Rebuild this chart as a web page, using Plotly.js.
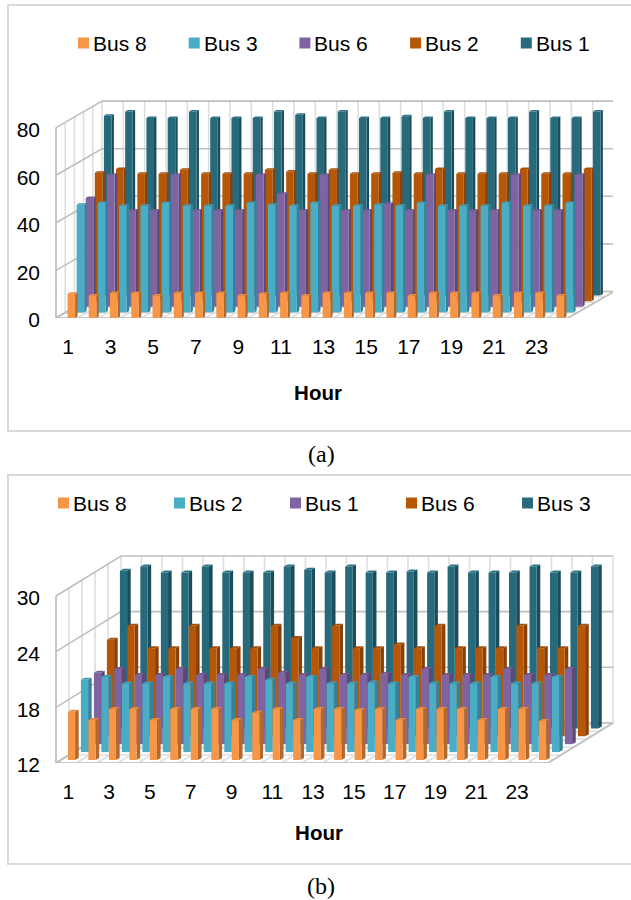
<!DOCTYPE html>
<html>
<head>
<meta charset="utf-8">
<script src="https://cdn.plot.ly/plotly-3.0.1.min.js"></script>
<style>html,body{margin:0;padding:0;background:#fff}#chart{width:631px;height:900px}</style>
</head>
<body>
<div id="chart"></div>
<script>
// Hourly values per bus, panel (a)
const hours = [1,2,3,4,5,6,7,8,9,10,11,12,13,14,15,16,17,18,19,20,21,22,23,24];
const namesA = ['Bus 8','Bus 3','Bus 6','Bus 2','Bus 1'];
const bus8A = [10.2,9.5,10.5,10.5,9.5,10.5,10.5,10.5,9.5,10.2,10.5,9.5,10.5,10.5,10.5,10.5,9.5,10.5,10.5,10.5,9.5,10.5,10.5,9.5];
const bus3A = [45.2,46,44.8,44.8,46,44.8,44.8,44.8,46,45.2,44.8,46,44.8,44.8,45.2,44.8,46,44.8,44.8,44.8,46,44.8,44.8,46];
const bus6A = [45.7,55.5,40.5,40.5,55.5,40.5,40.5,40.5,55.5,47.5,40.5,55.5,40.5,40.5,43.3,40.5,55.5,40.5,40.5,40.5,55.5,40.5,40.5,55.5];
const bus2A = [54,55.5,53.5,53.5,55.2,53.5,53.5,53.5,55.2,54.5,53.5,55.2,53.5,53.5,54,53.5,55.5,53.5,53.5,53.5,55.5,53.5,53.5,55.5];
const bus1A = [75.6,77.4,74.6,74.6,77.4,74.6,74.6,74.6,77.4,76,74.6,77.4,74.6,74.6,75.4,74.6,77.4,74.6,74.6,74.6,77.4,74.6,74.6,77.4];

// Hourly values per bus, panel (b)
const namesB = ['Bus 8','Bus 2','Bus 1','Bus 6','Bus 3'];
const bus8B = [17.2,16.3,17.5,17.5,16.3,17.5,17.5,17.5,16.3,17.1,17.5,16.3,17.5,17.5,17.4,17.5,16.3,17.5,17.5,17.5,16.3,17.5,17.5,16.2];
const bus2B = [19.8,20.1,19.4,19.4,20.1,19.4,19.4,19.4,20.1,19.8,19.4,20.1,19.4,19.4,19.5,19.4,20.1,19.4,19.4,19.4,20.1,19.4,19.4,20.1];
const bus1B = [19.7,20.1,19.45,19.45,20.1,19.45,19.45,19.45,20.1,19.7,19.45,20.1,19.45,19.45,19.6,19.45,20.1,19.45,19.45,19.45,20.1,19.45,19.45,20.1];
const bus6B = [22.4,23.9,21.5,21.5,23.9,21.5,21.5,21.5,23.9,22.6,21.5,23.9,21.5,21.5,21.9,21.5,23.9,21.5,21.5,21.5,23.9,21.5,21.5,23.9];
const bus3B = [29,29.45,28.8,28.8,29.45,28.8,28.8,28.8,29.45,29.1,28.8,29.45,28.8,28.8,28.9,28.8,29.45,28.8,28.8,28.8,29.45,28.8,28.8,29.45];

const yTicksA = [0,20,40,60,80];
const yTicksB = [12,18,24,30];
const xTicks = [1,3,5,7,9,11,13,15,17,19,21,23];

// Front, side and top shades of each series, nearest row first
const front = ['#F79646','#4BACC6','#8064A2','#B65708','#276A7C'];
const side  = ['#B0692F','#37829A','#5C4877','#8A4106','#1B4C5A'];
const top_  = ['#E58A40','#429DB5','#735B93','#A44E07','#2A7487'];

const W = 631, H = 900;
const FONT = 'Liberation Sans, Arial, sans-serif';

// Oblique projection of one panel: a row lifts a bar right and up on the plot
const panels = [
  {suffix:'', values:[bus8A,bus3A,bus6A,bus2A,bus1A], names:namesA, ticks:yTicksA,
   left:23, right:613, floorPx:318, topPx:100, vmin:0, vmax:80, pxPerUnit:2.38,
   hourPx:21.3, hour1Px:68, wallL:56, wallFrontR:568, depthX:46, depthY:26.5, titleGap:28,
   barShift:3.3, rowX:9.1, rowY:5.6, lift0:0, barW:7.6, sideX:2.4, sideY:1.5, barStep:21.26},
  {suffix:'2', values:[bus8B,bus2B,bus1B,bus6B,bus3B], names:namesB, ticks:yTicksB,
   left:24, right:614, floorPx:763, topPx:555, vmin:12, vmax:30, pxPerUnit:9.28,
   hourPx:20.4, hour1Px:68.3, wallL:56, wallFrontR:548, depthX:65, depthY:40, titleGap:23,
   barShift:3.2, rowX:13, rowY:7.9, lift0:3, barW:7.2, sideX:3.6, sideY:2, barStep:20.48}
];

const traces = [];
const layout = {
  width:W, height:H, margin:{l:0,r:0,t:0,b:0}, paper_bgcolor:'#fff', plot_bgcolor:'rgba(0,0,0,0)',
  barmode:'overlay', showlegend:false, shapes:[], annotations:[],
  font:{family:FONT, size:21, color:'#000'}
};

function lineTrace(p, pts, color, width, z){
  const x=[], y=[];
  pts.forEach(seg=>{ seg.forEach(q=>{x.push(q[0]);y.push(q[1]);}); x.push(null); y.push(null); });
  traces.push({type:'scatter',mode:'lines',x,y,xaxis:'x'+p.suffix,yaxis:'y'+p.suffix,
    line:{color,width},hoverinfo:'skip',showlegend:false,zorder:z});
}

panels.forEach(p=>{
  const hOf = px => 1+(px-p.hour1Px)/p.hourPx;
  const dHour = px => px/p.hourPx;
  const dVal = px => px/p.pxPerUnit;

  // Axes
  const xa = {domain:[p.left/W,p.right/W], range:[hOf(p.left),hOf(p.right)], tickmode:'array',
    tickvals:xTicks, ticktext:xTicks.map(String), showgrid:false, zeroline:false, showline:false,
    ticks:'', ticklabelstandoff:14, tickfont:{size:21,color:'#000',family:FONT}, tickangle:0,
    anchor:'y'+p.suffix, fixedrange:true,
    title:{text:'<b>Hour</b>', standoff:p.titleGap, font:{size:20.5,color:'#000',family:FONT}}};
  const ya = {domain:[1-p.floorPx/H,1-p.topPx/H], range:[p.vmin,p.vmin+dVal(p.floorPx-p.topPx)],
    tickmode:'array', tickvals:p.ticks, ticktext:p.ticks.map(String), showgrid:false, zeroline:false,
    showline:false, ticks:'', anchor:'free', position:p.wallL/W, ticklabelstandoff:16, ticklabelshift:2,
    tickfont:{size:21,color:'#000',family:FONT}, fixedrange:true};
  layout['xaxis'+p.suffix]=xa;
  layout['yaxis'+p.suffix]=ya;

  // Walls and floor
  const hL=hOf(p.wallL), hR=hOf(p.wallFrontR), dx=dHour(p.depthX), dy=dVal(p.depthY), v0=p.vmin, v1=p.vmax;
  const light=[], strong=[];
  const cells=hours.length;
  for(let j=0;j<=cells;j++){
    const h=hL+(hR-hL)*j/cells;
    light.push([[h+dx,v0+dy],[h+dx,v1+dy]]);
    light.push([[h,v0],[h+dx,v0+dy]]);
  }
  for(let n=0;n<=5;n++){
    const d=n/5;
    if(n<5) light.push([[hL+dx*d,v0+dy*d],[hL+dx*d,v1+dy*d]]);
    light.push([[hL+dx*d,v0+dy*d],[hR+dx*d,v0+dy*d]]);
  }
  lineTrace(p,light,'#DEDEDE',1.6,0);
  p.ticks.forEach(t=>{
    strong.push([[hL,t],[hL+dx,t+dy],[hR+dx,t+dy]]);
  });
  strong.push([[hL,v1],[hL,v0],[hR,v0],[hR+dx,v0+dy]]);
  strong.push([[hL,v0],[hL+dx,v0+dy]]);
  lineTrace(p,strong,'#BFBFBF',1.6,0);

  // Bars from the far row to the near one
  for(let k=p.values.length-1;k>=0;k--){
    const vals=p.values[k];
    const shift=dHour(p.barShift+k*p.rowX);
    const base=p.vmin+dVal(p.lift0+k*p.rowY);
    const hw=dHour(p.barW)/2;
    const sx=dHour(p.sideX), sy=dVal(p.sideY);
    const xs=hours.map((h,i)=>1+i*p.barStep/p.hourPx+shift);
    const z=(p.values.length-k)*2;
    const sideX=[],sideY=[],topX=[],topY=[];
    vals.forEach((v,i)=>{
      const xl=xs[i]-hw, xr=xs[i]+hw, t=base+v-p.vmin;
      sideX.push(xr,xr,xr+sx,xr+sx,xr,null);
      sideY.push(base,t,t+sy,base+sy,base,null);
      topX.push(xl,xr,xr+sx,xl+sx,xl,null);
      topY.push(t,t,t+sy,t+sy,t,null);
    });
    [[sideX,sideY,side[k]],[topX,topY,top_[k]]].forEach(f=>{
      traces.push({type:'scatter',mode:'lines',x:f[0],y:f[1],fill:'toself',fillcolor:f[2],
        line:{width:0,color:f[2]},xaxis:'x'+p.suffix,yaxis:'y'+p.suffix,hoverinfo:'skip',
        showlegend:false,zorder:z-1});
    });
    traces.push({type:'bar',name:p.names[k],x:xs,y:vals.map(v=>v-p.vmin),base:vals.map(()=>base),
      width:hw*2,marker:{color:front[k],line:{width:0}},xaxis:'x'+p.suffix,yaxis:'y'+p.suffix,
      customdata:vals,hovertemplate:'%{customdata}<extra>'+p.names[k]+'</extra>',zorder:z});
  }
});

// Panel frames
[[8,5,431],[8,475,864]].forEach(f=>{
  layout.shapes.push({type:'path',xref:'paper',yref:'paper',
    path:`M1,${1-f[1]/H} L${f[0]/W},${1-f[1]/H} L${f[0]/W},${1-f[2]/H} L1,${1-f[2]/H}`,
    line:{color:'#D9D9D9',width:2},layer:'below'});
});

// Key rows
const keys=[{names:namesA,x0:78,step:110.7,y:43},{names:namesB,x0:58,step:116,y:503}];
keys.forEach(g=>{
  g.names.forEach((n,k)=>{
    const sx=g.x0+k*g.step;
    layout.shapes.push({type:'rect',xref:'paper',yref:'paper',x0:sx/W,x1:(sx+11)/W,
      y0:1-(g.y+5.5)/H,y1:1-(g.y-5.5)/H,fillcolor:front[k],line:{width:0}});
    layout.annotations.push({xref:'paper',yref:'paper',x:(sx+13)/W,y:1-g.y/H,xanchor:'left',yanchor:'middle',
      text:n,showarrow:false,font:{size:21,color:'#000',family:FONT}});
  });
});

// Panel captions
[['(a)',454],['(b)',886]].forEach(c=>{
  layout.annotations.push({xref:'paper',yref:'paper',x:321/W,y:1-c[1]/H,xanchor:'center',yanchor:'middle',
    text:c[0],showarrow:false,font:{size:24,color:'#000',family:'Liberation Serif, Times New Roman, serif'}});
});

Plotly.newPlot('chart',traces,layout,{displayModeBar:false,staticPlot:true});
</script>
</body>
</html>
